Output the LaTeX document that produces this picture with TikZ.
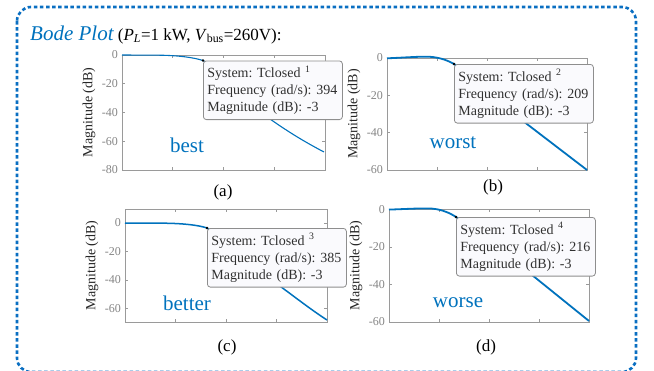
\documentclass[tikz,border=0pt]{standalone}
\usepackage{fontspec}
\setmainfont{Liberation Serif}
\frenchspacing
\definecolor{mblue}{HTML}{0072BD}
\definecolor{frameblue}{HTML}{0A6FC2}
\definecolor{axgray}{HTML}{9A9A9A}
\definecolor{labgray}{HTML}{858585}
\definecolor{tipedge}{HTML}{8E8E8E}
\definecolor{tipfill}{HTML}{FAFAFD}
\definecolor{tiptext}{HTML}{303030}

% axes box with inward ticks on all four sides
% #1 name, #2 left, #3 top, #4 right, #5 bottom, #6 list of ypos/label
\newcommand\bodeframe[6]{%
  \draw[axframe] (#2,#3) rectangle (#4,#5);
  \foreach \i in {1,2,3}{%
    \draw[axframe] ({#2+\i*(#4-#2)/4},#5) -- ++(0,-3);
    \draw[axframe] ({#2+\i*(#4-#2)/4},#3) -- ++(0,3);
  }
  \foreach \yy/\lab [count=\k] in {#6}{%
    \draw[axframe] (#2,\yy) -- ++(3,0);
    \draw[axframe] (#4,\yy) -- ++(-3,0);
    \node[ticklab] (#1-y\k) at (#2-4,\yy) {\lab};
  }
  \node[ylab] (#1-ylab) at (#2-33,{(#3+#5)/2}) {Magnitude (dB)};
}

\begin{document}
\begin{tikzpicture}[x=1pt,y=-1pt,
  axframe/.style={draw=axgray,line width=0.9pt},
  ticklab/.style={anchor=east,inner sep=0pt,text=labgray,font=\fontsize{12}{14}\selectfont},
  ylab/.style={rotate=90,inner sep=0pt,text=black!85,font=\fontsize{14}{16}\selectfont},
  curve/.style={draw=mblue,line join=round},
  tip/.style={draw=tipedge,fill=tipfill,rounded corners=3pt,line width=0.8pt,
    anchor=north west,align=left,inner xsep=4pt,inner ysep=5pt,text width=131pt,
    text=tiptext,font=\fontsize{14}{17}\selectfont},
  tag/.style={text=mblue,inner sep=0pt,font=\fontsize{21}{24}\selectfont},
  sub/.style={inner sep=0pt,font=\fontsize{17}{20}\selectfont},
  border/.style={draw=frameblue,line width=2.6pt,dash pattern=on 3.5pt off 2.6pt,rounded corners=14pt}]

\useasboundingbox (0,0) rectangle (654,370);

% dashed outer frame (its lower edge runs just past the page)
\draw[border] (17,7) rectangle (636,372);

% heading
\node[anchor=base west,inner sep=0pt] (title) at (30,40)
  {{\fontsize{21}{24}\selectfont\itshape\color{mblue}Bode Plot}{\fontsize{17}{20}\selectfont
   \ (\textit{P}\textsubscript{\textit{L}}=1 kW, \textit{V}\textsubscript{bus}=260V):}};

% ---------- (a) ----------
\bodeframe{a}{122}{55}{325}{170}{55/0,83.75/-20,112.5/-40,141.25/-60,170/-80}
\coordinate (pa) at (203,60.5);
\draw[curve,line width=1.1pt] (122,55) -- (160,55.2) .. controls (178,55.5) and (193,57.3) .. (pa)
  .. controls (222,71) and (248,103) .. (270,119)
  .. controls (290,133) and (305,142) .. (324,152);
\node[tag] (besttag) at (187,145) {best};
\node[tip] (tipa) at (pa) {System: Tclosed \textsuperscript{1}\\Frequency (rad/s): 394\\Magnitude (dB): -3};
\fill[black] (pa) circle (1.4);
\node[sub] (cap-a) at (223,192) {(a)};

% ---------- (b) ----------
\bodeframe{b}{387}{58}{587}{170}{58/0,95.33/-20,132.67/-40,170/-60}
\coordinate (pb) at (454,64);
\draw[curve,line width=1.8pt] (387,58.3) .. controls (405,57.6) and (420,56.3) .. (430,56.8)
  .. controls (440,57.5) and (448,60.5) .. (pb)
  .. controls (476,80) and (500,104) .. (523,121) -- (587,170);
\node[tag] (worsttag) at (453,143) {worst};
\node[tip] (tipb) at (pb) {System: Tclosed \textsuperscript{2}\\Frequency (rad/s): 209\\Magnitude (dB): -3};
\fill[black] (pb) circle (1.4);
\node[sub] (cap-b) at (493,187) {(b)};

% ---------- (c) ----------
\bodeframe{c}{125}{209}{327}{322}{223/0,251.5/-20,280/-40,308.5/-60}
\coordinate (pc) at (207,228);
\draw[curve,line width=1.5pt] (125,223) -- (165,223.2) .. controls (183,223.5) and (198,225) .. (pc)
  .. controls (228,242) and (250,266) .. (273,281)
  .. controls (295,297) and (310,309) .. (327,320);
\node[tag] (bettertag) at (187,303) {better};
\node[tip] (tipc) at (pc) {System: Tclosed \textsuperscript{3}\\Frequency (rad/s): 385\\Magnitude (dB): -3};
\fill[black] (pc) circle (1.4);
\node[sub] (cap-c) at (227,347) {(c)};

% ---------- (d) ----------
\bodeframe{d}{389}{209}{589}{322}{209.5/0,247/-20,284.5/-40,322/-60}
\coordinate (pd) at (456,217);
\draw[curve,line width=1.8pt] (389,209.6) .. controls (407,209) and (422,208) .. (432,208.6)
  .. controls (442,209.5) and (450,213) .. (pd)
  .. controls (478,233) and (505,256) .. (532,275) -- (589,321);
\node[tag] (worsetag) at (458,303) {worse};
\node[tip] (tipd) at (pd) {System: Tclosed \textsuperscript{4}\\Frequency (rad/s): 216\\Magnitude (dB): -3};
\fill[black] (pd) circle (1.4);
\node[sub] (cap-d) at (486,347) {(d)};

\end{tikzpicture}
\end{document}
